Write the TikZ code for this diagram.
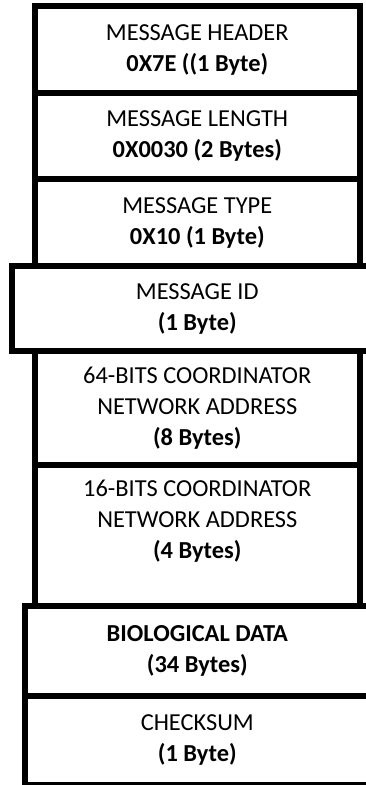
\documentclass[tikz,border=0pt]{standalone}
\usepackage{fontspec}
\setmainfont{Carlito}
\usepackage{tikz}

\begin{document}
\begin{tikzpicture}[x=1pt, y=1pt,
		field/.style={draw, rectangle, line width=6pt, inner sep=0pt, outer sep=0pt,
			align=center, font=\fontsize{24.4}{31}\selectfont}]
		\useasboundingbox (0, 0) rectangle (366, -785);
		\clip (0, 0) rectangle (366, -785);
		\node[field, minimum width=325.3pt, minimum height=87pt] (header) at (197.3, -49.5)
			{MESSAGE HEADER\\\textbf{0X7E ((1 Byte)}};
		\node[field, minimum width=325.3pt, minimum height=86pt] (length) at (197.3, -136)
			{MESSAGE LENGTH\\\textbf{0X0030 (2 Bytes)}};
		\node[field, minimum width=325.3pt, minimum height=87pt] (type) at (197.3, -222.5)
			{MESSAGE TYPE\\\textbf{0X10 (1 Byte)}};
		\node[field, minimum width=371.3pt, minimum height=85pt] (msgid) at (197.3, -308.5)
			{MESSAGE ID\\\textbf{(1 Byte)}};
		\node[field, minimum width=325.3pt, minimum height=113.5pt] (addrlong) at (197.3, -407.75)
			{64-BITS COORDINATOR\\NETWORK ADDRESS\\\textbf{(8 Bytes)}};
		\node[field, minimum width=325.3pt, minimum height=141pt] (addrshort) at (197.3, -535)
			{16-BITS COORDINATOR\\NETWORK ADDRESS\\\textbf{(4 Bytes)}\\ };
		\node[field, minimum width=344.6pt, minimum height=90.5pt] (biodata) at (197.3, -650.75)
			{\textbf{BIOLOGICAL DATA}\\\textbf{(34 Bytes)}};
		\node[field, minimum width=344.6pt, minimum height=88.5pt] (checksum) at (197.3, -740.25)
			{CHECKSUM\\\textbf{(1 Byte)}};
	\end{tikzpicture}
\end{document}
